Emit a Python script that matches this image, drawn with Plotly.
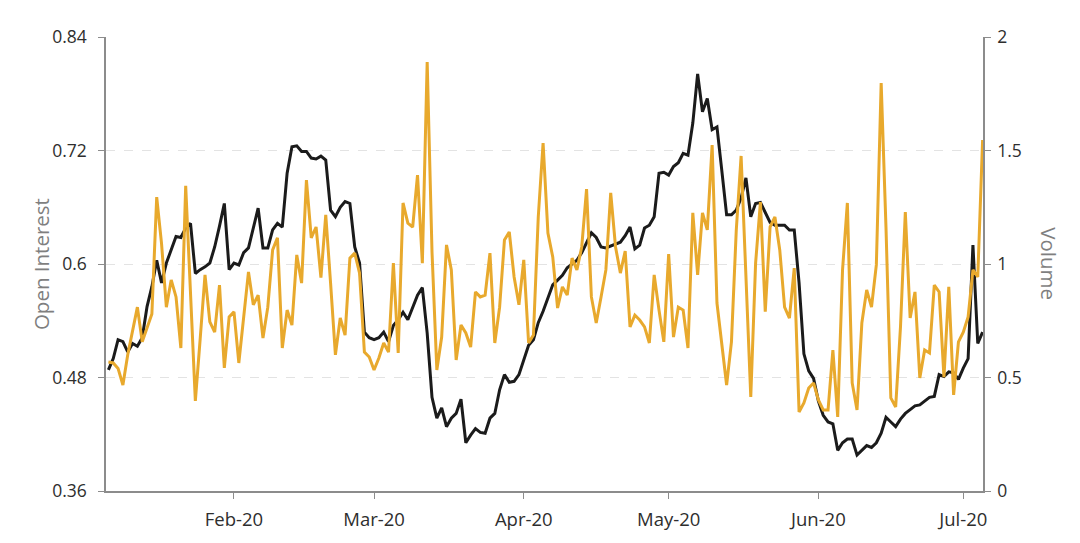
import pandas as pd
import plotly.graph_objects as go

start_date = "2020-01-06"

open_interest = [
    0.488, 0.50, 0.52, 0.518, 0.507, 0.516, 0.513, 0.522, 0.555, 0.576,
    0.604, 0.58, 0.601, 0.615, 0.629, 0.628, 0.638, 0.643, 0.59, 0.594,
    0.597, 0.601, 0.618, 0.64, 0.664, 0.594, 0.601, 0.599, 0.612, 0.617,
    0.638, 0.659, 0.617, 0.617, 0.636, 0.643, 0.639, 0.696, 0.724, 0.725,
    0.719, 0.719, 0.712, 0.711, 0.714, 0.71, 0.657, 0.65, 0.66, 0.666,
    0.664, 0.618, 0.601, 0.528, 0.522, 0.52, 0.522, 0.528, 0.518, 0.535,
    0.541, 0.549, 0.541, 0.555, 0.567, 0.575, 0.527, 0.459, 0.437, 0.448,
    0.428, 0.437, 0.442, 0.457, 0.411, 0.419, 0.426, 0.422, 0.421, 0.437,
    0.442, 0.467, 0.483, 0.475, 0.476, 0.483, 0.498, 0.514, 0.52, 0.538,
    0.55, 0.565, 0.578, 0.583, 0.588, 0.596, 0.60, 0.604, 0.612, 0.622,
    0.633, 0.628, 0.618, 0.617, 0.619, 0.621, 0.623, 0.63, 0.639, 0.616,
    0.62, 0.638, 0.641, 0.65, 0.696, 0.697, 0.694, 0.703, 0.707, 0.717,
    0.715, 0.749, 0.801, 0.761, 0.775, 0.742, 0.745, 0.699, 0.652, 0.652,
    0.657, 0.67, 0.691, 0.65, 0.664, 0.665, 0.655, 0.644, 0.641, 0.641,
    0.641, 0.636, 0.636, 0.58, 0.505, 0.487, 0.479, 0.455, 0.44, 0.433,
    0.431, 0.403, 0.411, 0.415, 0.415, 0.398, 0.403, 0.408, 0.406, 0.411,
    0.421, 0.438, 0.433, 0.428, 0.436, 0.442, 0.446, 0.45, 0.451, 0.455,
    0.459, 0.46, 0.483, 0.481, 0.486, 0.485, 0.478, 0.49, 0.50, 0.62,
    0.516, 0.528,
]

volume = [
    0.568, 0.564, 0.54, 0.467, 0.60, 0.71, 0.81, 0.657, 0.72, 0.78,
    1.295, 1.09, 0.81, 0.93, 0.855, 0.63, 1.344, 0.886, 0.397, 0.67,
    0.952, 0.745, 0.70, 0.907, 0.542, 0.767, 0.789, 0.564, 0.753, 0.965,
    0.82, 0.863, 0.674, 0.81, 1.062, 1.115, 0.63, 0.797, 0.731, 1.04,
    0.916, 1.37, 1.115, 1.163, 0.94, 1.216, 0.916, 0.60, 0.762, 0.687,
    1.026, 1.048, 0.96, 0.612, 0.59, 0.533, 0.586, 0.652, 0.612, 1.004,
    0.608, 1.269, 1.18, 1.163, 1.392, 1.004, 1.89, 1.053, 0.533, 0.678,
    1.084, 0.974, 0.577, 0.731, 0.696, 0.634, 0.877, 0.855, 0.863, 1.048,
    0.652, 0.81, 1.106, 1.141, 0.943, 0.82, 1.018, 0.652, 0.687, 1.207,
    1.533, 1.136, 1.031, 0.806, 0.899, 0.863, 1.026, 0.974, 1.075, 1.33,
    0.855, 0.74, 0.855, 0.974, 1.313, 1.075, 0.96, 1.057, 0.723, 0.775,
    0.753, 0.723, 0.652, 0.952, 0.797, 0.657, 1.044, 0.678, 0.81, 0.797,
    0.63, 1.225, 0.952, 1.225, 1.15, 1.524, 0.828, 0.657, 0.467, 0.657,
    1.15, 1.476, 0.982, 0.414, 1.004, 1.273, 0.79, 1.163, 1.207, 1.062,
    0.81, 0.762, 0.982, 0.348, 0.388, 0.454, 0.476, 0.401, 0.357, 0.357,
    0.621, 0.326, 0.974, 1.269, 0.476, 0.357, 0.74, 0.886, 0.81, 0.996,
    1.797, 1.159, 0.41, 0.37, 0.723, 1.229, 0.762, 0.877, 0.498, 0.621,
    0.608, 0.907, 0.877, 0.502, 0.899, 0.423, 0.657, 0.70, 0.767, 0.974,
    0.943, 1.546,
]

dates = pd.date_range(start_date, periods=len(open_interest), freq="D")

month_ticks = ["2020-02-01", "2020-03-01", "2020-04-01", "2020-05-01", "2020-06-01", "2020-07-01"]
month_labels = ["Feb-20", "Mar-20", "Apr-20", "May-20", "Jun-20", "Jul-20"]
oi_ticks = [0.36, 0.48, 0.6, 0.72, 0.84]
vol_ticks = [0, 0.5, 1, 1.5, 2]

YELLOW = "#E8A92D"
BLACK = "#1B1B1B"
AXIS = "#8C8C8C"
TEXT = "#2E2E2E"
FONT = "Open Sans"

fig = go.Figure()
fig.add_trace(go.Scatter(x=dates, y=volume, yaxis="y2", mode="lines",
                         line=dict(color=YELLOW, width=3), name="Volume"))
fig.add_trace(go.Scatter(x=dates, y=open_interest, yaxis="y", mode="lines",
                         line=dict(color=BLACK, width=3), name="Open Interest"))

fig.update_layout(
    width=1080, height=543,
    margin=dict(l=98, r=105, t=29, b=60),
    paper_bgcolor="white", plot_bgcolor="white",
    showlegend=False,
    font=dict(family=FONT, size=17, color=TEXT),
    xaxis=dict(
        type="date",
        range=["2020-01-05 12:00", "2020-07-05 02:00"],
        tickvals=month_ticks, ticktext=month_labels,
        showgrid=False, zeroline=False,
        showline=True, linecolor=AXIS, linewidth=1.5,
        ticks="outside", ticklen=6, tickcolor=AXIS,
        ticklabelstandoff=5,
        tickfont=dict(size=18.5, color=TEXT),
    ),
    yaxis=dict(
        range=[0.36, 0.84], tickvals=oi_ticks,
        ticktext=["0.36", "0.48", "0.6", "0.72", "0.84"],
        showgrid=True, gridcolor="#E3E3E3", griddash="dash", gridwidth=1,
        zeroline=False,
        showline=True, linecolor=AXIS, linewidth=1.5,
        ticks="outside", ticklen=6, tickcolor=AXIS,
        ticklabelstandoff=8,
        tickfont=dict(size=17.5, color=TEXT),
    ),
    yaxis2=dict(
        range=[0, 2], tickvals=vol_ticks,
        ticktext=["0", "0.5", "1", "1.5", "2"],
        overlaying="y", side="right",
        showgrid=False, zeroline=False,
        showline=True, linecolor=AXIS, linewidth=1.5,
        ticks="outside", ticklen=6, tickcolor=AXIS,
        ticklabelstandoff=3,
        tickfont=dict(size=17.5, color=TEXT),
    ),
    annotations=[
        dict(text="Open Interest", xref="paper", yref="paper", x=-0.074, y=0.5,
             xanchor="center", yanchor="middle", textangle=-90, showarrow=False,
             font=dict(size=20.5, color="#7F7F7F", family=FONT)),
        dict(text="Volume", xref="paper", yref="paper", x=1.075, y=0.5,
             xanchor="center", yanchor="middle", textangle=90, showarrow=False,
             font=dict(size=20.5, color="#7F7F7F", family=FONT)),
    ],
)

fig.write_html("out.html")
